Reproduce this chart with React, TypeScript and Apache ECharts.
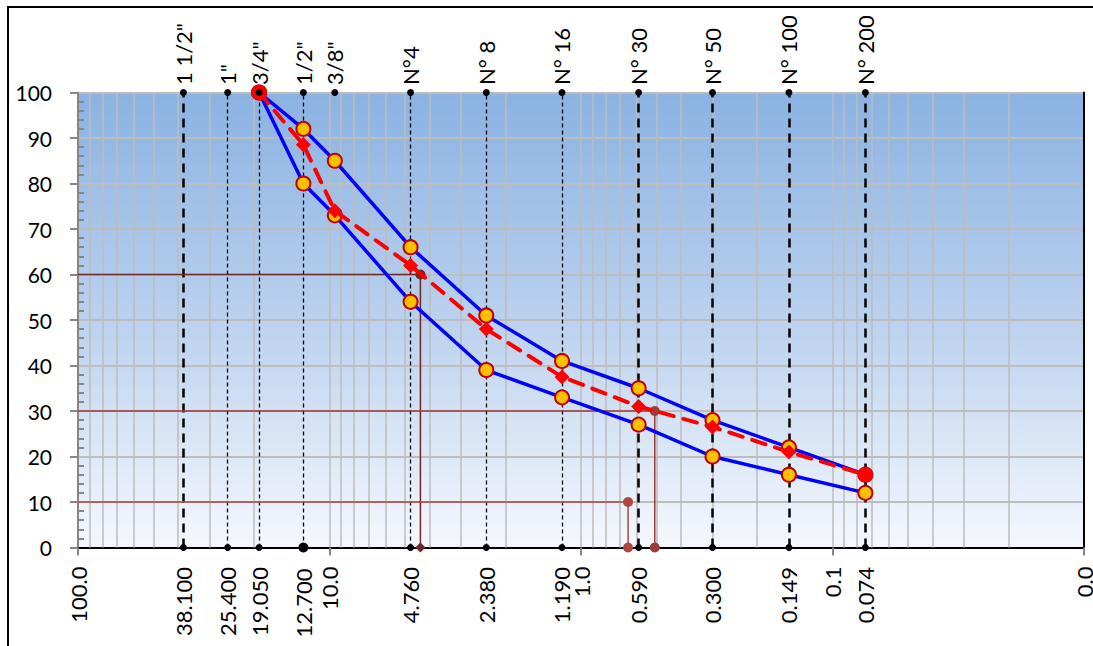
import React, { useEffect, useRef } from "react";
import * as echarts from "echarts";

// Sieves (top labels, sizes in mm, line style of the vertical marker)
const SIEVE_NAMES = ['1 1/2"', '1"', '3/4"', '1/2"', '3/8"', "N°4", "N° 8", "N° 16", "N° 30", "N° 50", "N° 100", "N° 200"];
const SIEVE_SIZES = [38.1, 25.4, 19.05, 12.7, 9.525, 4.76, 2.38, 1.19, 0.59, 0.3, 0.149, 0.074];
const SIEVE_LINE = ["thick", "thin", "thin", "thin", "none", "thin", "thin", "thin", "thick", "thick", "thick", "thick"];
const SIEVE_BOTTOM = [true, true, true, true, false, true, true, true, true, true, true, true];

// Curves
const CURVE_SIZES = [19.05, 12.7, 9.525, 4.76, 2.38, 1.19, 0.59, 0.3, 0.149, 0.074];
const UPPER = [100, 92, 85, 66, 51, 41, 35, 28, 22, 16];
const LOWER = [100, 80, 73, 54, 39, 33, 27, 20, 16, 12];
const SAMPLE = [100, 88.5, 74, 62, 48, 37.5, 31, 26.5, 21, 16];

// Characteristic diameters
const D_PERCENT = [60, 30, 10];
const D_SIZES = [4.35, 0.509, 0.65];
const D_COLORS = ["#6E2626", "#9E3B38", "#B04542"];
const D_END_SYMBOL = ["diamond", "circle", "circle"];

// Log grid minor lines
const MINOR_GRID = [90, 80, 70, 60, 50, 40, 30, 20, 9, 8, 7, 6, 5, 4, 3, 2, 0.9, 0.8, 0.7, 0.6, 0.5, 0.4, 0.3, 0.2, 0.09, 0.08, 0.07, 0.06, 0.05, 0.04, 0.03, 0.02];

const X_MIN = 0.01;
const X_MAX = 100;
const FONT = "Lato, 'Open Sans', sans-serif";

export default function App() {
  const ref = useRef<HTMLDivElement>(null);

  useEffect(() => {
    if (!ref.current) return;
    const chart = echarts.init(ref.current, null, { renderer: "svg" });

    const sieveLineData = SIEVE_SIZES.map((s, i) => {
      if (SIEVE_LINE[i] === "none") return null;
      const thick = SIEVE_LINE[i] === "thick";
      return {
        xAxis: s,
        lineStyle: {
          color: "#000",
          width: thick ? 2.5 : 1.3,
          type: thick ? [9, 6] : [4, 3],
        },
      };
    }).filter((d) => d !== null);

    const dSeries: any[] = [];
    D_SIZES.forEach((d, i) => {
      dSeries.push({
        type: "line",
        z: 8,
        silent: true,
        data: [
          { value: [X_MAX, D_PERCENT[i]], symbol: "none" },
          { value: [d, D_PERCENT[i]], symbol: "circle", symbolSize: 10 },
          { value: [d, 0], symbol: D_END_SYMBOL[i], symbolSize: 10 },
        ],
        symbol: "circle",
        lineStyle: { color: D_COLORS[i], width: 1.5 },
        itemStyle: { color: D_COLORS[i] },
      });
    });

    const labelText = { fontSize: 22, fontFamily: FONT, fontWeight: "normal", color: "#000" };

    const option: any = {
      animation: false,
      grid: {
        left: 78,
        right: 9,
        top: 92.5,
        height: 455,
        show: true,
        borderWidth: 0,
        containLabel: false,
        outerBoundsMode: "none",
        backgroundColor: new echarts.graphic.LinearGradient(0, 0, 0, 1, [
          { offset: 0, color: "#8AB2E2" },
          { offset: 0.5, color: "#BBD1EE" },
          { offset: 1, color: "#F5F8FD" },
        ]),
      },
      graphic: [
        {
          type: "rect",
          z: -10,
          shape: { x: 8, y: 7, width: 1300, height: 800 },
          style: { fill: "none", stroke: "#000", lineWidth: 2 },
        },
      ],
      xAxis: [
        {
          type: "log",
          logBase: 10,
          min: X_MIN,
          max: X_MAX,
          inverse: true,
          position: "bottom",
          axisLine: { show: true, lineStyle: { color: "#868686", width: 2 } },
          axisTick: { show: true, length: 8, lineStyle: { color: "#868686", width: 2 } },
          axisLabel: {
            show: true,
            rotate: 90,
            margin: 19,
            ...labelText,
            formatter: (v: number) => v.toFixed(1),
          },
          splitLine: { show: true, lineStyle: { color: "#BDBDBD", width: 1.5 } },
        },
        {
          type: "log",
          logBase: 10,
          min: X_MIN,
          max: X_MAX,
          inverse: true,
          position: "top",
          axisLine: { show: true, lineStyle: { color: "#000", width: 2 } },
          axisTick: { show: false },
          axisLabel: { show: false },
          splitLine: { show: false },
        },
      ],
      yAxis: [
        {
          type: "value",
          min: 0,
          max: 100,
          interval: 10,
          position: "left",
          axisLine: { show: true, lineStyle: { color: "#868686", width: 2 } },
          axisTick: { show: true, length: 8, lineStyle: { color: "#868686", width: 2 } },
          axisLabel: { ...labelText, fontSize: 21, margin: 26 },
          splitLine: { show: true, lineStyle: { color: "#BDBDBD", width: 2 } },
        },
        {
          type: "value",
          min: 0,
          max: 100,
          interval: 10,
          position: "left",
          axisLine: { show: false },
          axisTick: { show: false, inside: true },
          axisLabel: { show: false },
          splitLine: { show: false },
          minorTick: { show: true, splitNumber: 5, length: 6, lineStyle: { color: "#868686", width: 2 } },
        },
        {
          type: "value",
          min: 0,
          max: 100,
          interval: 10,
          position: "right",
          axisLine: { show: true, lineStyle: { color: "#000", width: 2 } },
          axisTick: { show: false },
          axisLabel: { show: false },
          splitLine: { show: false },
        },
      ],
      series: [
        {
          type: "line",
          name: "grid",
          data: [],
          silent: true,
          markLine: {
            silent: true,
            z: 1,
            precision: 4,
            symbol: ["none", "none"],
            label: { show: false },
            lineStyle: { color: "#BDBDBD", width: 1.5, type: "solid" },
            data: MINOR_GRID.map((v) => ({ xAxis: v })),
          },
        },
        {
          type: "line",
          name: "sieves",
          data: [],
          silent: true,
          markLine: {
            silent: true,
            z: 2,
            precision: 4,
            symbol: ["none", "none"],
            label: { show: false },
            data: sieveLineData,
          },
        },
        ...dSeries,
        {
          type: "line",
          name: "upper",
          z: 10,
          data: CURVE_SIZES.map((s, i) => [s, UPPER[i]]),
          symbol: "circle",
          symbolSize: 14,
          lineStyle: { color: "#0000FF", width: 3.5 },
          itemStyle: { color: "#FFC000", borderColor: "#C00000", borderWidth: 2 },
        },
        {
          type: "line",
          name: "lower",
          z: 10,
          data: CURVE_SIZES.map((s, i) => [s, LOWER[i]]),
          symbol: "circle",
          symbolSize: 14,
          lineStyle: { color: "#0000FF", width: 3.5 },
          itemStyle: { color: "#FFC000", borderColor: "#C00000", borderWidth: 2 },
        },
        {
          type: "line",
          name: "sample",
          z: 11,
          data: CURVE_SIZES.map((s, i) => {
            const end = i === 0 || i === CURVE_SIZES.length - 1;
            return { value: [s, SAMPLE[i]], symbol: end ? "circle" : "diamond", symbolSize: 15 };
          }),
          symbol: "diamond",
          lineStyle: { color: "#FF0000", width: 4, type: [14, 10], cap: "round" },
          itemStyle: { color: "#FF0000" },
        },
        {
          type: "scatter",
          name: "sieveTop",
          z: 12,
          clip: false,
          symbolSize: 7,
          itemStyle: { color: "#000", opacity: 1 },
          data: SIEVE_SIZES.map((s, i) => ({ value: [s, 100], name: SIEVE_NAMES[i] })),
          label: {
            show: true,
            position: "top",
            distance: 4,
            rotate: 90,
            align: "left",
            verticalAlign: "middle",
            opacity: 1,
            ...labelText,
            formatter: (p: any) => p.name,
          },
        },
        {
          type: "scatter",
          name: "sieveBottom",
          z: 12,
          clip: false,
          itemStyle: { color: "#000", opacity: 1 },
          data: SIEVE_SIZES.map((s, i) => ({ s, i }))
            .filter((o) => SIEVE_BOTTOM[o.i])
            .map((o) => ({ value: [o.s, 0], symbolSize: o.s === 12.7 ? 10 : 7 })),
          label: {
            show: true,
            position: "bottom",
            distance: 16,
            rotate: 90,
            align: "right",
            verticalAlign: "middle",
            opacity: 1,
            ...labelText,
            formatter: (p: any) => p.value[0].toFixed(3),
          },
        },
      ],
    };

    chart.setOption(option);
    return () => chart.dispose();
  }, []);

  return (
    <div
      ref={ref}
      style={{ position: "absolute", left: 0, top: 0, width: 1093, height: 646, background: "#fff" }}
    />
  );
}
